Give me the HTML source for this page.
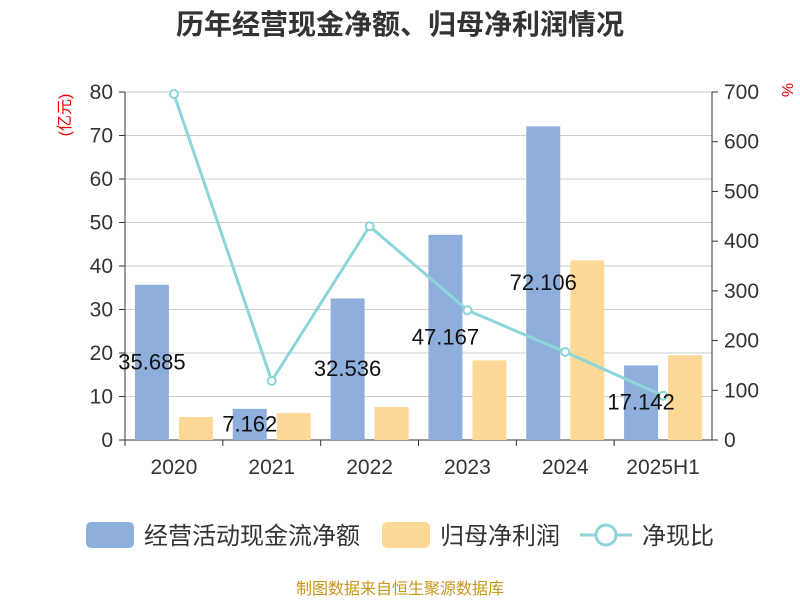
<!DOCTYPE html>
<html><head><meta charset="utf-8"><style>
body{margin:0;background:#fff;font-family:"Liberation Sans","Noto Sans CJK SC",sans-serif}
</style></head><body>
<svg id="c" width="800" height="600" xmlns="http://www.w3.org/2000/svg" style="font-family:'Liberation Sans','Noto Sans CJK SC',sans-serif"></svg>
<script>
const categories=["2020","2021","2022","2023","2024","2025H1"];
const cashFlow=[35.685,7.162,32.536,47.167,72.106,17.142];
const netProfit=[5.3,6.2,7.6,18.3,41.3,19.5];
const ratio=[696,119,430,261,177,89];
const leftTicks=[0,10,20,30,40,50,60,70,80];
const rightTicks=[0,100,200,300,400,500,600,700];
const cashLabels=["35.685","7.162","32.536","47.167","72.106","17.142"];
const svg=document.getElementById('c');const NS="http://www.w3.org/2000/svg";
function add(tag,attrs,name,text){const e=document.createElementNS(NS,tag);for(const k in attrs)e.setAttribute(k,attrs[k]);


if(text!==undefined)e.textContent=text;svg.appendChild(e);return e;}
const X0=125,X1=712,Y0=440,Y1=92;const bw=(X1-X0)/categories.length;
const yL=v=>Y0-(v/80)*(Y0-Y1);const yR=v=>Y0-(v/700)*(Y0-Y1);const xc=i=>X0+bw*(i+0.5);
add('text',{x:400,y:34,'text-anchor':'middle','font-size':28,'font-weight':'bold',fill:'#333'},'chart-title','历年经营现金净额、归母净利润情况');
leftTicks.forEach(t=>{add('line',{x1:X0,x2:X1,y1:yL(t),y2:yL(t),stroke:'#ccc','stroke-width':1},'grid-line');
add('line',{x1:X0-6,x2:X0,y1:yL(t),y2:yL(t),stroke:'#333'},'left-tick');
add('text',{x:X0-12,y:yL(t)+7,'text-anchor':'end','font-size':21,fill:'#333'},'left-tick-label',String(t));});
rightTicks.forEach(t=>{add('line',{x1:X1,x2:X1+6,y1:yR(t),y2:yR(t),stroke:'#333'},'right-tick');
add('text',{x:X1+12,y:yR(t)+7,'font-size':21,fill:'#333'},'right-tick-label',String(t));});
add('line',{x1:X0,x2:X0,y1:Y1,y2:Y0,stroke:'#333'},'left-axis');
add('line',{x1:X1,x2:X1,y1:Y1,y2:Y0,stroke:'#333'},'right-axis');
add('line',{x1:X0,x2:X1,y1:Y0,y2:Y0,stroke:'#333'},'x-axis');
add('text',{x:70,y:115,'text-anchor':'middle','font-size':16,fill:'#e00',transform:'rotate(-90 70 115)'},'left-axis-unit','(亿元)');
add('text',{x:782,y:90,'text-anchor':'middle','font-size':16,fill:'#e00',transform:'rotate(90 782 90)'},'right-axis-unit','%');
categories.forEach((c,i)=>{
add('line',{x1:X0+bw*i,x2:X0+bw*i,y1:Y0,y2:Y0+6,stroke:'#333'},'x-tick');
add('text',{x:xc(i),y:474,'text-anchor':'middle','font-size':21,fill:'#333'},'x-tick-label',c);
add('rect',{x:xc(i)-39,y:yL(cashFlow[i]),width:34,height:Y0-yL(cashFlow[i]),fill:'#8eaedb'},'bar-cash-flow-'+c);
add('rect',{x:xc(i)+5,y:yL(netProfit[i]),width:34,height:Y0-yL(netProfit[i]),fill:'#fed897'},'bar-net-profit-'+c);
});
add('line',{x1:X1,x2:X1+6,y1:Y0,y2:Y0,stroke:'#333'},'x-tick');
add('polyline',{points:ratio.map((v,i)=>xc(i)+','+yR(v)).join(' '),fill:'none',stroke:'#8cd5d8','stroke-width':3},'ratio-line');
ratio.forEach((v,i)=>add('circle',{cx:xc(i),cy:yR(v),r:4,fill:'#fff',stroke:'#8cd5d8','stroke-width':2},'ratio-point-'+categories[i]));
cashLabels.forEach((l,i)=>add('text',{x:xc(i)-22,y:(yL(cashFlow[i])+Y0)/2+7,'text-anchor':'middle','font-size':22,fill:'#111'},'cash-flow-value-label',l));
add('rect',{x:86,y:522,width:48,height:26,rx:5,fill:'#8eaedb'},'legend-swatch-cash-flow');
add('text',{x:144,y:544,'font-size':24,fill:'#333'},'legend-label-cash-flow','经营活动现金流净额');
add('rect',{x:382,y:522,width:48,height:26,rx:5,fill:'#fed897'},'legend-swatch-net-profit');
add('text',{x:440,y:544,'font-size':24,fill:'#333'},'legend-label-net-profit','归母净利润');
add('line',{x1:580,x2:632,y1:535,y2:535,stroke:'#8cd5d8','stroke-width':3},'legend-swatch-ratio-line');
add('circle',{cx:606,cy:535,r:10,fill:'#fff',stroke:'#8cd5d8','stroke-width':3},'legend-swatch-ratio-point');
add('text',{x:642,y:544,'font-size':24,fill:'#333'},'legend-label-ratio','净现比');
add('text',{x:400,y:594,'text-anchor':'middle','font-size':16,fill:'#c8961e'},'source-note','制图数据来自恒生聚源数据库');
</script></body></html>
